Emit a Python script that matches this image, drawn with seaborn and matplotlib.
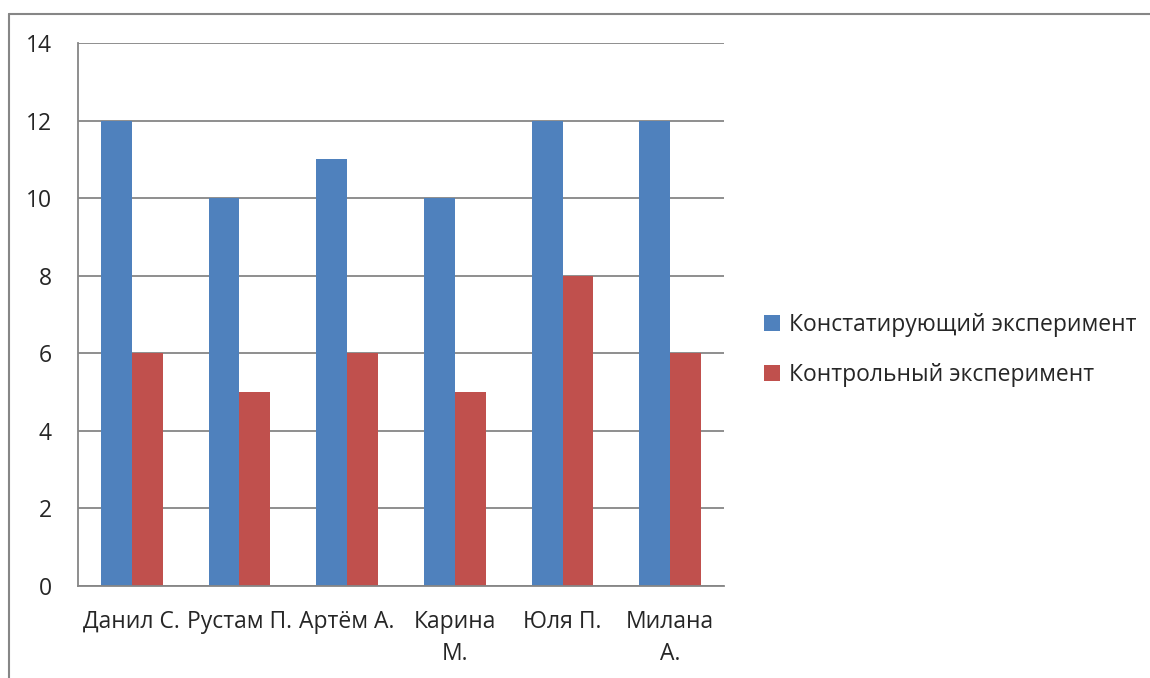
import matplotlib
matplotlib.use("Agg")
import matplotlib.pyplot as plt
from matplotlib.lines import Line2D
import seaborn as sns
import pandas as pd

names = ["Данил С.", "Рустам П.", "Артём А.", "Карина\nМ.", "Юля П.", "Милана\nА."]
series = ["Констатирующий эксперимент", "Контрольный эксперимент"]
ascertaining = [12, 10, 11, 10, 12, 12]
control = [6, 5, 6, 5, 8, 6]
y_ticks = [0, 2, 4, 6, 8, 10, 12, 14]

colors = ["#4F81BD", "#C0504D"]
grid_color = "#868686"

df = pd.DataFrame({
    "name": names * 2,
    "series": [series[0]] * len(names) + [series[1]] * len(names),
    "value": ascertaining + control,
})

sns.set_style("white")
plt.rcParams["font.family"] = ["Open Sans", "DejaVu Sans"]
FS = 16.5

W, H = 1150, 678
fig = plt.figure(figsize=(W / 100, H / 100), dpi=100)

# plot area in pixel coordinates
left, right, top, bottom = 78, 724, 43, 586
ax = fig.add_axes([left / W, 1 - bottom / H, (right - left) / W, (bottom - top) / H])

sns.barplot(data=df, x="name", y="value", hue="series", order=names,
            hue_order=series, palette=colors, width=0.575, saturation=1,
            linewidth=0, ax=ax, legend=True)

ax.set_ylim(0, 14)
ax.set_xlim(-0.5, len(names) - 0.5)
ax.set_yticks(y_ticks)
ax.set_yticklabels([str(v) for v in y_ticks])
ax.set_xlabel("")
ax.set_ylabel("")
ax.set_axisbelow(True)
ax.yaxis.grid(True, color=grid_color, linewidth=1.3)
ax.xaxis.grid(False)

for side in ("top", "right"):
    ax.spines[side].set_visible(False)
for side in ("left", "bottom"):
    ax.spines[side].set_color(grid_color)
    ax.spines[side].set_linewidth(1.3)

# category ticks sit on the boundaries between groups
ax.set_xticks([i - 0.5 for i in range(len(names) + 1)], minor=True)
ax.tick_params(axis="x", which="major", length=0, pad=17, labelsize=FS)
ax.tick_params(axis="x", which="minor", length=6, width=1.3, color=grid_color,
               direction="out")
ax.tick_params(axis="y", length=6, width=1.3, color=grid_color, direction="out",
               pad=13, labelsize=FS)
for lbl in ax.get_xticklabels():
    lbl.set_linespacing(1.45)
    lbl.set_verticalalignment("top")

handles, labels = ax.get_legend_handles_labels()
ax.legend(handles, labels, loc="center left",
          bbox_to_anchor=(764 / W, 1 - 350 / H), bbox_transform=fig.transFigure,
          frameon=False, fontsize=FS, handlelength=0.7, handleheight=0.7,
          handletextpad=0.4, labelspacing=1.15, borderpad=0, borderaxespad=0)

# outer chart frame
fig.add_artist(Line2D([8.5 / W, 1.0], [1 - 13.5 / H, 1 - 13.5 / H],
                      transform=fig.transFigure, color=grid_color, linewidth=1.5))
fig.add_artist(Line2D([8.5 / W, 8.5 / W], [1 - 13.5 / H, 0.0],
                      transform=fig.transFigure, color=grid_color, linewidth=1.5))

fig.savefig("out.png", dpi=100)
